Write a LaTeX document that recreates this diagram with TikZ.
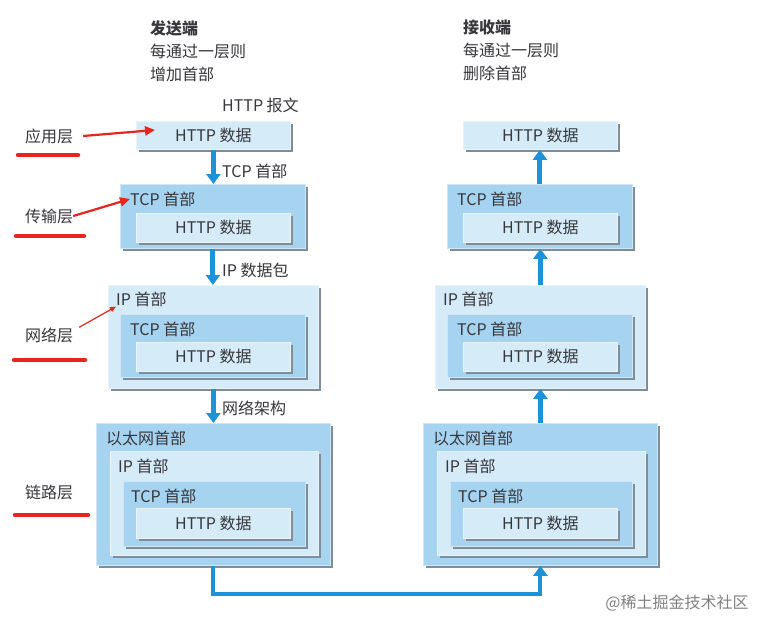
\documentclass[tikz,border=0pt]{standalone}
\usepackage{fontspec}
\setmainfont{Noto Sans CJK SC}
\usetikzlibrary{positioning,arrows.meta,shadows}

\definecolor{boxmid}{RGB}{166,212,240}
\definecolor{boxlite}{RGB}{214,235,248}
\definecolor{boxshade}{RGB}{128,140,152}
\definecolor{flow}{RGB}{28,146,216}
\definecolor{redmark}{RGB}{232,36,28}
\definecolor{ink}{RGB}{55,55,60}

\begin{document}
\begin{tikzpicture}[
  x=1pt, y=-1pt,
  font=\fontsize{16}{23}\selectfont, text=ink,
  pkt/.style={draw=#1!55!white, line width=0.8pt, fill=#1, anchor=north west, inner sep=0pt,
    drop shadow={shadow xshift=3pt, shadow yshift=-3pt, fill=boxshade, opacity=1}},
  hdr/.style={anchor=west, inner sep=0pt},
  note/.style={anchor=west, inner sep=0pt},
  layer/.style={inner sep=0pt},
  flowarrow/.style={flow, line width=5pt, -{Triangle[width=14pt,length=10pt]}},
  underline/.style={redmark, line width=4.5pt, line cap=round},
  redarrow/.style={redmark, line width=2.2pt, -{Triangle[width=9pt,length=10pt]}}
]
\useasboundingbox (0,0) rectangle (770,632);

% column headers
\node[anchor=north west, align=left, inner sep=0pt] (send) at (150,20) {\textbf{发送端}\\每通过一层则\\增加首部};
\node[anchor=north west, align=left, inner sep=0pt] (recv) at (463,20) {\textbf{接收端}\\每通过一层则\\删除首部};

% the four packet stacks, sender (L) and receiver (R)
\foreach \c/\dx in {L/0,R/327}{
  \begin{scope}[xshift=\dx]
    % application
    \node[pkt=boxlite, minimum width=154, minimum height=28] (app\c) at (136,121) {HTTP 数据};
    % transport
    \node[pkt=boxmid, minimum width=185, minimum height=64] (tcp\c) at (120,184) {};
    \node[hdr] (tcph\c) at (130,199) {TCP 首部};
    \node[pkt=boxlite, minimum width=154, minimum height=29] (tcpd\c) at (136,213) {HTTP 数据};
    % network
    \node[pkt=boxlite, minimum width=210, minimum height=103] (ip\c) at (108,285) {};
    \node[hdr] (iph\c) at (116,299) {IP 首部};
    \node[pkt=boxmid, minimum width=185, minimum height=63] (ipt\c) at (120,314) {};
    \node[hdr] (ipth\c) at (130,329) {TCP 首部};
    \node[pkt=boxlite, minimum width=154, minimum height=29] (ipd\c) at (136,342) {HTTP 数据};
    % link
    \node[pkt=boxmid, minimum width=234, minimum height=142] (eth\c) at (96,423) {};
    \node[hdr] (ethh\c) at (106,438) {以太网首部};
    \node[pkt=boxlite, minimum width=208, minimum height=104] (ethi\c) at (110,451) {};
    \node[hdr] (ethih\c) at (118,466) {IP 首部};
    \node[pkt=boxmid, minimum width=182, minimum height=65] (etht\c) at (123,481) {};
    \node[hdr] (ethth\c) at (131,496) {TCP 首部};
    \node[pkt=boxlite, minimum width=154, minimum height=30] (ethd\c) at (136,508) {HTTP 数据};
  \end{scope}
}

% sender goes down
\draw[flowarrow] (appL.south) -- (appL.south |- tcpL.north);
\draw[flowarrow] (tcpL.south) -- (tcpL.south |- ipL.north);
\draw[flowarrow] (ipL.south) -- (ipL.south |- ethL.north);
% receiver goes up
\draw[flowarrow] (ethR.north) -- (ethR.north |- ipR.south);
\draw[flowarrow] (ipR.north) -- (ipR.north |- tcpR.south);
\draw[flowarrow] (tcpR.north) -- (tcpR.north |- appR.south);
% wire between hosts
\draw[flow, line width=4pt, -{Triangle[width=14pt,length=10pt]}] (ethL.south) -- ++(0,28) -| (ethR.south);

\node[note] (msg) at (222,105) {HTTP 报文};
\node[note] (seg) at (222,171) {TCP 首部};
\node[note] (dgm) at (222,270) {IP 数据包};
\node[note] (frm) at (222,408) {网络架构};

% layer names, marked in red
\node[layer] (lapp) at (49,136) {应用层};
\node[layer] (ltcp) at (49,216) {传输层};
\node[layer] (lnet) at (49,335) {网络层};
\node[layer] (llnk) at (49,492) {链路层};
\draw[underline] (18,155) -- (78,155);
\draw[underline] (16,236) -- (84,236);
\draw[underline] (14,360) -- (85,360);
\draw[underline] (15,515) -- (88,515);

\coordinate (appTip) at (155,130);
\draw[redarrow] ([xshift=10pt]lapp.east) -- (appTip);
\draw[redarrow] (ltcp.east) -- (tcphL.west);
\draw[redmark, line width=1.2pt, -{Triangle[width=5pt,length=6pt]}] ([xshift=6pt]lnet.north east) -- (iphL.south west);

\node[gray] (wm) at (677,603) {@稀土掘金技术社区};
\end{tikzpicture}
\end{document}
